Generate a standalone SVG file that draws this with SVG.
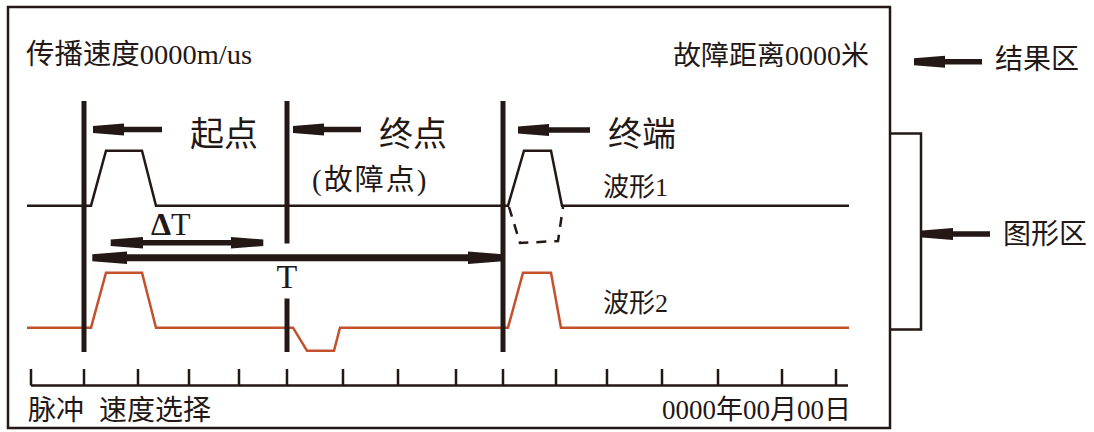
<svg xmlns="http://www.w3.org/2000/svg" width="1094" height="432" viewBox="0 0 1094 432">
<style>
.t{font-family:'Liberation Serif','Noto Sans CJK SC',serif;fill:#231815}
.frame{fill:none;stroke:#231815;stroke-width:2.5}
.wave{fill:none;stroke:#231815;stroke-width:2.5;stroke-linejoin:miter}
.red{fill:none;stroke:#c4502c;stroke-width:2.5}
.cur{stroke:#231815;stroke-width:5}
.tick{stroke:#231815;stroke-width:2.5;fill:none}
.arr{fill:#231815}
</style>
<rect width="1094" height="432" fill="#ffffff"/>
<g id="frame">
<rect class="frame" x="8" y="7" width="882" height="421"/>
</g>
<g id="bracket">
<path class="frame" d="M890,133.5 H921 V329.5 H890"/>
</g>
<g id="result-texts">
<text class="t" x="26" y="64" font-size="28" textLength="226" lengthAdjust="spacingAndGlyphs">传播速度0000m/us</text>
<text class="t" x="673" y="65" font-size="27" textLength="196" lengthAdjust="spacingAndGlyphs">故障距离0000米</text>
</g>
<g id="waveform1">
<path class="wave" d="M27,205.7 H91 L106,150.7 H142 L156,205.7 H508 L524,150.7 H551 L562,205.7 H849"/>
<path class="wave" d="M509,207 L520,243 L558,241 L563,207" stroke-dasharray="10 8"/>
<text class="t" x="603" y="196" font-size="26">波形1</text>
</g>
<g id="waveform2">
<path class="red" d="M27,327.7 H91 L106,272.7 H142 L156,327.7 H293 L307,350.7 H334 L340,327.7 H508 L523,272.7 H551 L561,327.7 H849"/>
<text class="t" x="603" y="312" font-size="26">波形2</text>
</g>
<g id="cursors">
<line class="cur" x1="84" y1="101" x2="84" y2="352"/>
<line class="cur" x1="287" y1="101" x2="287" y2="243.5"/>
<line class="cur" x1="287" y1="298.5" x2="287" y2="352"/>
<line class="cur" x1="503" y1="101" x2="503" y2="352"/>
</g>
<g id="connectors">
<polygon class="arr" points="93,126 124,123.5 124,126.8 162,126.8 162,132.2 124,132.2 124,135.5 93,133"/>
<polygon class="arr" points="293,126 324,123.5 324,126.8 361,126.8 361,132.2 324,132.2 324,135.5 293,133"/>
<polygon class="arr" points="518,126.5 549,124 549,127.3 590,127.3 590,132.7 549,132.7 549,136 518,133.5"/>
<polygon class="arr" points="914,58.2 945,55.7 945,59 982,59 982,64.4 945,64.4 945,67.7 914,65.2"/>
<polygon class="arr" points="922,230.5 953,228 953,231.3 990,231.3 990,236.7 953,236.7 953,240 922,237.5"/>
<polygon class="arr" points="110.7,239.5 143,237 143,240 231,240 231,237 263.3,239.5 263.3,246 231,248.4 231,245.4 143,245.4 143,248.4 110.7,246"/>
<polygon class="arr" points="92.3,254.2 127,251.5 127,254.2 468,254.2 468,251.5 503,254.2 503,261.2 468,263.9 468,261.2 127,261.2 127,263.9 92.3,261.2"/>
</g>
<g id="labels">
<text class="t" x="190" y="146" font-size="34">起点</text>
<text class="t" x="379" y="146" font-size="34">终点</text>
<text class="t" x="312" y="190" font-size="29" letter-spacing="2">(故障点)</text>
<text class="t" x="608" y="146" font-size="34">终端</text>
<text class="t" x="151" y="235" font-size="32"><tspan font-weight="bold">Δ</tspan>T</text>
<text class="t" x="287" y="288" font-size="34" text-anchor="middle">T</text>
<text class="t" x="995" y="69" font-size="28">结果区</text>
<text class="t" x="1003" y="244" font-size="28">图形区</text>
</g>
<g id="axis">
<path class="tick" d="M31,385.5 H848 M31,369 V385.5 M84,369 V385.5 M138,369 V385.5 M189,369 V385.5 M239,369 V385.5 M287,369 V385.5 M343,369 V385.5 M398,369 V385.5 M456,369 V385.5 M503,369 V385.5 M556,369 V385.5 M607,369 V385.5 M662,369 V385.5 M718,369 V385.5 M782,369 V385.5 M836,369 V385.5"/>
<text class="t" x="28" y="420" font-size="28">脉冲</text>
<text class="t" x="99" y="420" font-size="28">速度选择</text>
<text class="t" x="851" y="419" font-size="27" text-anchor="end">0000年00月00日</text>
</g>
</svg>
